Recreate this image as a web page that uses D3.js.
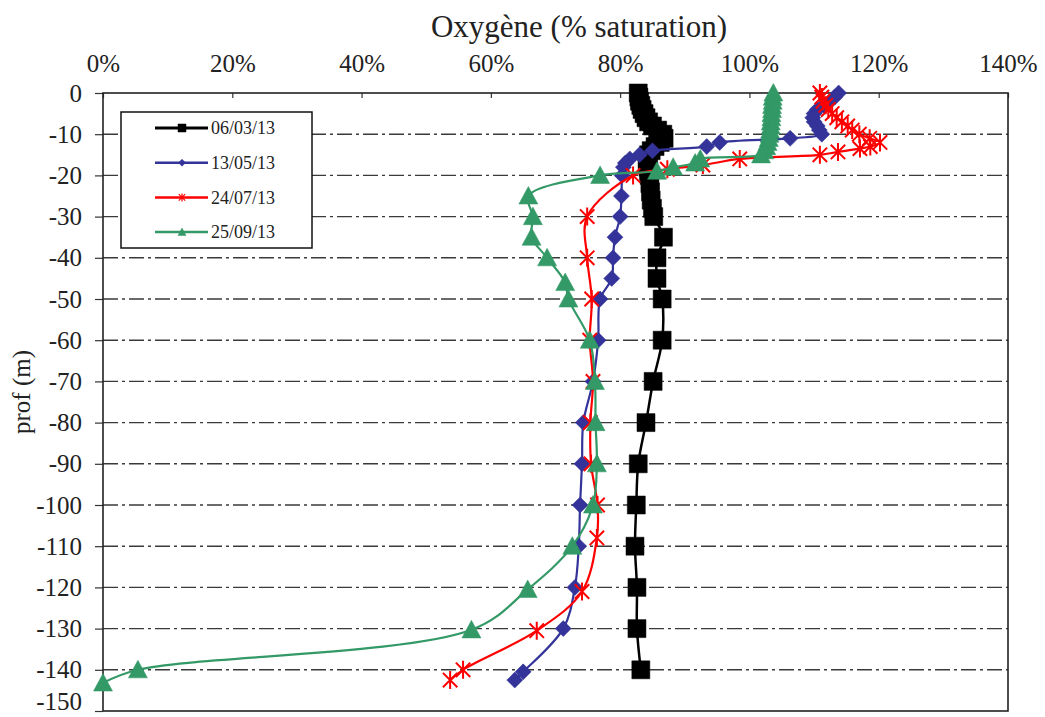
<!DOCTYPE html>
<html>
<head>
<meta charset="utf-8">
<script src="https://cdn.jsdelivr.net/npm/d3@7"></script>
<style>
    body { margin: 0; background: #fff; }
    svg, svg text { font-family: "Liberation Serif", "Times New Roman", serif; }
</style>
</head>
<body>
<svg id="chart"></svg>
<script>
// profils d'oxygène (% saturation) par date, profondeur en m
const dates = ["06/03/13", "13/05/13", "24/07/13", "25/09/13"];
const colors = ["#000000", "#333399", "#ff0000", "#339966"];
const markers = ["square", "diamond", "star", "triangle"];

const depthTicks = [0, -10, -20, -30, -40, -50, -60, -70, -80, -90, -100, -110, -120, -130, -140, -150];
const o2Ticks = [0, 20, 40, 60, 80, 100, 120, 140];

const blackDepth = [0, -1, -2, -3, -4, -5, -6, -7, -8, -9, -10, -11, -12, -13, -14, -15, -16, -17, -18, -19, -20,
    -22, -24, -26, -28, -30, -35, -40, -45, -50, -60, -70, -80, -90, -100, -110, -120, -130, -140];
const blackO2 = [82.8, 82.9, 83.0, 83.2, 83.4, 83.7, 84.0, 84.4, 85.0, 85.8, 86.6, 86.8, 86.2, 85.4, 84.8, 84.4, 84.2, 84.2, 84.3, 84.4, 84.5,
    84.6, 84.7, 84.8, 85.0, 85.2, 86.7, 85.7, 85.7, 86.5, 86.5, 85.1, 84.0, 82.8, 82.5, 82.3, 82.6, 82.6, 83.2];

const blueDepth = [0, -1, -2, -3, -4, -5, -6, -7, -8, -9, -10, -11, -12, -13, -14, -15, -16, -17, -18, -20,
    -25, -30, -35, -40, -45, -50, -60, -70, -80, -90, -100, -110, -120, -130, -140.5, -142.5];
const blueO2 = [113.8, 113.2, 112.5, 111.5, 110.5, 110.0, 109.8, 110.0, 110.5, 110.8, 111.2, 106.3, 95.4, 93.4, 85.0, 83.0, 81.5, 80.8, 80.5, 80.3,
    80.2, 80.0, 79.2, 78.9, 78.7, 76.9, 76.6, 75.8, 74.3, 74.1, 73.8, 73.6, 73.0, 71.2, 65.0, 63.7];

const redDepth = [0, -1, -2, -3, -4, -5, -6, -7, -8, -9, -10, -11, -12, -13, -13.5, -14.3, -15, -16, -17.5, -18.5, -20,
    -30, -40, -50, -60, -70, -80, -90, -100, -108, -121, -130.5, -140, -142.5];
const redO2 = [110.9, 111.2, 111.4, 111.8, 112.2, 112.8, 113.5, 114.3, 115.2, 115.9, 117.0, 118.6, 120.2, 118.7, 117.1, 113.7, 110.9, 98.5, 92.8, 87.3, 82.0,
    74.9, 74.9, 75.6, 75.3, 75.8, 75.4, 75.5, 76.5, 76.4, 74.1, 67.1, 55.7, 53.7];

const greenDepth = [0, -1, -2, -3, -4, -5, -6, -7, -8, -9, -10, -11, -12, -13, -14, -15, -16, -17, -18, -19, -20,
    -25, -30, -35, -40, -46, -50, -60, -70, -80, -90, -100, -110, -120.5, -130.3, -140, -143.2];
const greenO2 = [103.7, 103.6, 103.6, 103.5, 103.5, 103.4, 103.4, 103.3, 103.3, 103.2, 103.1, 103.0, 102.8, 102.6, 102.3, 101.8, 92.4, 91.6, 88.2, 85.7, 76.9,
    65.8, 66.5, 66.3, 68.7, 71.5, 72.0, 75.3, 76.1, 76.2, 76.4, 75.8, 72.6, 65.7, 57.0, 5.4, 0];

const depths = [blackDepth, blueDepth, redDepth, greenDepth];
const values = [blackO2, blueO2, redO2, greenO2];

const width = 1045;
const height = 717;
const margin = { top: 93, right: 37, bottom: 6, left: 103 };
const serif = "'Liberation Serif', 'Times New Roman', serif";

const series = dates.map((date, i) => ({
    name: date,
    color: colors[i],
    marker: markers[i],
    points: depths[i].map((d, j) => ({ depth: d, o2: values[i][j] }))
}));

const svg = d3.select("#chart")
    .attr("width", width)
    .attr("height", height)
    .style("font-family", serif);

const x = d3.scaleLinear()
    .domain([0, 140])
    .range([margin.left, width - margin.right]);

const y = d3.scaleLinear()
    .domain([0, -150])
    .range([margin.top, height - margin.bottom]);

function markerPath(type, r) {
    if (type === "square") return `M${-r},${-r}H${r}V${r}H${-r}Z`;
    if (type === "diamond") return `M0,${-r}L${r},0L0,${r}L${-r},0Z`;
    if (type === "triangle") return `M0,${-r}L${r},${r * 0.85}L${-r},${r * 0.85}Z`;
    // étoile façon Excel : croix + barre verticale
    const a = r * 0.8;
    return `M${-a},${-a}L${a},${a}M${-a},${a}L${a},${-a}M0,${-r}L0,${r}`;
}

const markerSize = { square: 9, diamond: 8, star: 9, triangle: 9.5 };

// grille horizontale en tiret-point
svg.append("g")
    .selectAll("line")
    .data(depthTicks.filter(d => d !== 0 && d !== -150))
    .join("line")
    .attr("x1", x(0))
    .attr("x2", x(140))
    .attr("y1", d => y(d))
    .attr("y2", d => y(d))
    .attr("stroke", "#3a3a3a")
    .attr("stroke-width", 1.4)
    .attr("stroke-dasharray", "15,4,3,4");

// axe du haut (valeurs en %)
svg.append("g")
    .attr("transform", `translate(0, ${y(0)})`)
    .call(d3.axisTop(x)
        .tickValues(o2Ticks)
        .tickFormat(d => d + "%")
        .tickSize(-5)
        .tickPadding(21))
    .call(g => g.select(".domain").remove())
    .call(g => g.selectAll("line").attr("stroke", "#333").attr("stroke-width", 1.2))
    .call(g => g.selectAll("text")
        .style("font-family", serif)
        .style("font-size", "25px")
        .attr("fill", "#222"));

// axe des profondeurs
svg.append("g")
    .attr("transform", `translate(${x(0)}, 0)`)
    .call(d3.axisLeft(y)
        .tickValues(depthTicks)
        .tickFormat(d => String(d))
        .tickSize(8)
        .tickPadding(13))
    .call(g => g.select(".domain").remove())
    .call(g => g.selectAll("line").attr("stroke", "#333").attr("stroke-width", 1.2))
    .call(g => g.selectAll("text")
        .style("font-family", serif)
        .style("font-size", "25px")
        .attr("fill", "#222")
        .attr("dy", d => d === -150 ? "-0.05em" : "0.32em"));

// cadre
svg.append("rect")
    .attr("x", x(0))
    .attr("y", y(0))
    .attr("width", x(140) - x(0))
    .attr("height", y(-150) - y(0))
    .attr("fill", "none")
    .attr("stroke", "#222")
    .attr("stroke-width", 1.6);

const line = d3.line()
    .x(d => x(d.o2))
    .y(d => y(d.depth))
    .curve(d3.curveCatmullRom.alpha(0.5));

series.forEach((s) => {
    const g = svg.append("g");

    g.append("path")
        .datum(s.points)
        .attr("d", line)
        .attr("fill", "none")
        .attr("stroke", s.color)
        .attr("stroke-width", s.marker === "square" ? 2.5 : 2.2);

    g.selectAll(".pt")
        .data(s.points)
        .join("path")
        .attr("class", "pt")
        .attr("transform", d => `translate(${x(d.o2)}, ${y(d.depth)})`)
        .attr("d", markerPath(s.marker, markerSize[s.marker]))
        .attr("fill", s.marker === "star" ? "none" : s.color)
        .attr("stroke", s.color)
        .attr("stroke-width", s.marker === "star" ? 2 : 0.5);
});

// légende
const legend = svg.append("g");

legend.append("rect")
    .attr("x", 121)
    .attr("y", 112)
    .attr("width", 191)
    .attr("height", 136)
    .attr("fill", "#fff")
    .attr("stroke", "#111")
    .attr("stroke-width", 1.5);

const item = legend.selectAll(".item")
    .data(series)
    .join("g")
    .attr("class", "item")
    .attr("transform", (d, i) => `translate(155, ${128 + i * 34.7})`);

item.append("line")
    .attr("x1", 0)
    .attr("x2", 53)
    .attr("stroke", d => d.color)
    .attr("stroke-width", d => d.marker === "square" ? 3 : 2.5);

item.append("path")
    .attr("transform", "translate(27, 0)")
    .attr("d", d => markerPath(d.marker, d.marker === "diamond" ? 3.5 : 4))
    .attr("fill", d => d.marker === "star" ? "none" : d.color)
    .attr("stroke", d => d.color)
    .attr("stroke-width", d => d.marker === "star" ? 1.2 : 0.5);

item.append("text")
    .attr("x", 56)
    .attr("dy", "0.35em")
    .style("font-size", "18px")
    .attr("fill", "#222")
    .text(d => d.name);

// titres
svg.append("text")
    .attr("x", 579)
    .attr("y", 37)
    .attr("text-anchor", "middle")
    .style("font-size", "31px")
    .attr("fill", "#222")
    .text("Oxygène (% saturation)");

svg.append("text")
    .attr("transform", "translate(30, 392) rotate(-90)")
    .attr("text-anchor", "middle")
    .style("font-size", "25px")
    .attr("fill", "#222")
    .text("prof (m)");
</script>
</body>
</html>
